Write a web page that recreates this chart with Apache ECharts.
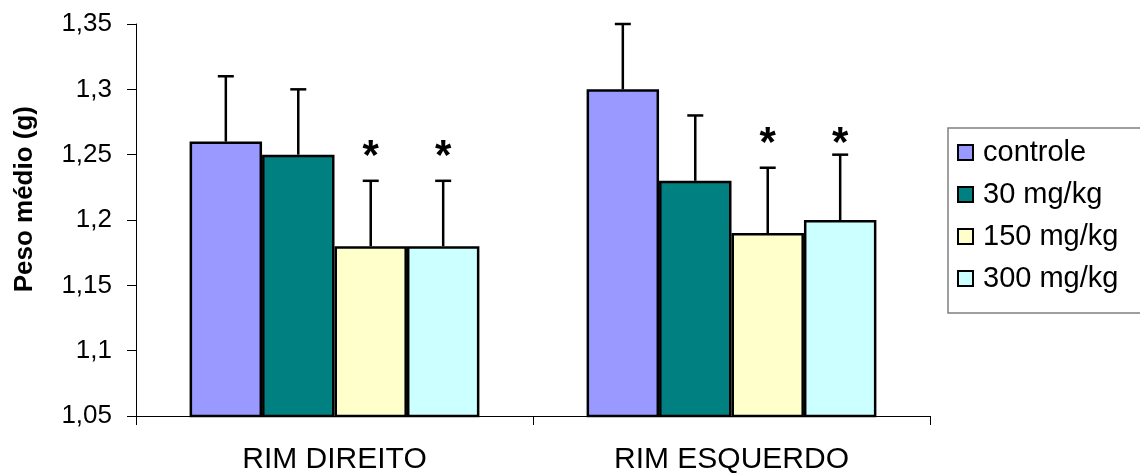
<!DOCTYPE html>
<html>
<head>
<meta charset="utf-8">
<script src="https://cdn.jsdelivr.net/npm/echarts@6/dist/echarts.min.js"></script>
<style>
  html, body { margin: 0; padding: 0; background: #fff; }
  #chart { width: 1140px; height: 475px; }
</style>
</head>
<body>
<div id="chart"></div>
<script>
// Peso médio dos rins por grupo de dose
const categorias = ['RIM DIREITO', 'RIM ESQUERDO'];
const grupos = ['controle', '30 mg/kg', '150 mg/kg', '300 mg/kg'];
const cores = ['#9999FF', '#008080', '#FFFFCC', '#CCFFFF'];

const controle = [1.26, 1.30];
const dose30 = [1.25, 1.23];
const dose150 = [1.18, 1.19];
const dose300 = [1.18, 1.20];

// desvio (barra de erro só para cima)
const erroControle = [0.05, 0.05];
const erro30 = [0.05, 0.05];
const erro150 = [0.05, 0.05];
const erro300 = [0.05, 0.05];

// nível do asterisco de significância em cada rim
const nivelAsterisco = [1.2549, 1.2646];
const gruposSignificativos = [2, 3];

const yTicks = { min: 1.05, max: 1.35, interval: 0.05 };

const medias = [controle, dose30, dose150, dose300];
const erros = [erroControle, erro30, erro150, erro300];

const GAP = 0.27; // espaço entre categorias
const FONT = '"Liberation Sans", Arial, sans-serif';

function renderErro(idx) {
  return function (params, api) {
    const cat = api.value(0);
    const mean = api.value(1);
    const err = api.value(2);
    const band = api.size([1, 0])[0];
    const groupW = band * (1 - GAP);
    const barW = groupW / grupos.length;
    const cx = api.coord([cat, mean])[0] - groupW / 2 + (idx + 0.5) * barW;
    const yBase = api.coord([cat, mean])[1];
    const yTop = api.coord([cat, mean + err])[1];
    const children = [
      { type: 'line', shape: { x1: cx, y1: yBase, x2: cx, y2: yTop },
        style: { stroke: '#000', lineWidth: 2.5 } },
      { type: 'line', shape: { x1: cx - 8, y1: yTop, x2: cx + 8, y2: yTop },
        style: { stroke: '#000', lineWidth: 2.5 } }
    ];
    if (gruposSignificativos.indexOf(idx) >= 0) {
      const yA = api.coord([cat, nivelAsterisco[cat]])[1];
      children.push({
        type: 'text',
        style: { text: '*', x: cx, y: yA + 9, fill: '#000',
                 font: 'bold 42px ' + FONT, align: 'center', verticalAlign: 'middle' }
      });
    }
    return { type: 'group', children: children };
  };
}

const series = [];
grupos.forEach(function (nome, i) {
  series.push({
    name: nome,
    type: 'bar',
    data: medias[i],
    barGap: '0%',
    barCategoryGap: (GAP * 100) + '%',
    itemStyle: { color: cores[i], borderColor: '#000', borderWidth: 2.5 },
    z: 2
  });
});
grupos.forEach(function (nome, i) {
  series.push({
    type: 'custom',
    renderItem: renderErro(i),
    data: categorias.map(function (c, k) { return [k, medias[i][k], erros[i][k]]; }),
    encode: { x: 0, y: 1 },
    z: 3,
    silent: true
  });
});

const chart = echarts.init(document.getElementById('chart'), null, { renderer: 'canvas' });
chart.setOption({
  animation: false,
  backgroundColor: '#fff',
  grid: { left: 136, right: 210, top: 24, bottom: 59, containLabel: false },
  legend: {
    data: grupos,
    orient: 'vertical',
    left: 948,
    top: 128,
    padding: [10, 60, 20, 9],
    itemGap: 13,
    itemWidth: 15,
    itemHeight: 15,
    icon: 'rect',
    borderColor: '#808080',
    borderWidth: 1.5,
    itemStyle: { borderColor: '#000', borderWidth: 2 },
    textStyle: { fontFamily: FONT, fontSize: 29, color: '#000', lineHeight: 28, padding: [0, 0, 0, 5] }
  },
  xAxis: {
    type: 'category',
    data: categorias,
    axisLine: { lineStyle: { color: '#000', width: 1 } },
    axisTick: { show: true, length: 9, lineStyle: { color: '#000' } },
    axisLabel: { fontFamily: FONT, fontSize: 30, color: '#000', margin: 29 }
  },
  yAxis: {
    type: 'value',
    min: yTicks.min,
    max: yTicks.max,
    interval: yTicks.interval,
    splitLine: { show: false },
    axisLine: { show: true, lineStyle: { color: '#000', width: 1 } },
    axisTick: { show: true, length: 9, lineStyle: { color: '#000' } },
    axisLabel: {
      fontFamily: FONT, fontSize: 26, color: '#000', margin: 24,
      formatter: function (v) { return String(Math.round(v * 100) / 100).replace('.', ','); }
    }
  },
  graphic: [{
    type: 'text',
    left: 12,
    top: 106,
    style: { text: 'Peso médio (g)', font: 'bold 26px ' + FONT, fill: '#000' },
    rotation: Math.PI / 2,
    originX: 0, originY: 0
  }],
  series: series
});
</script>
</body>
</html>
